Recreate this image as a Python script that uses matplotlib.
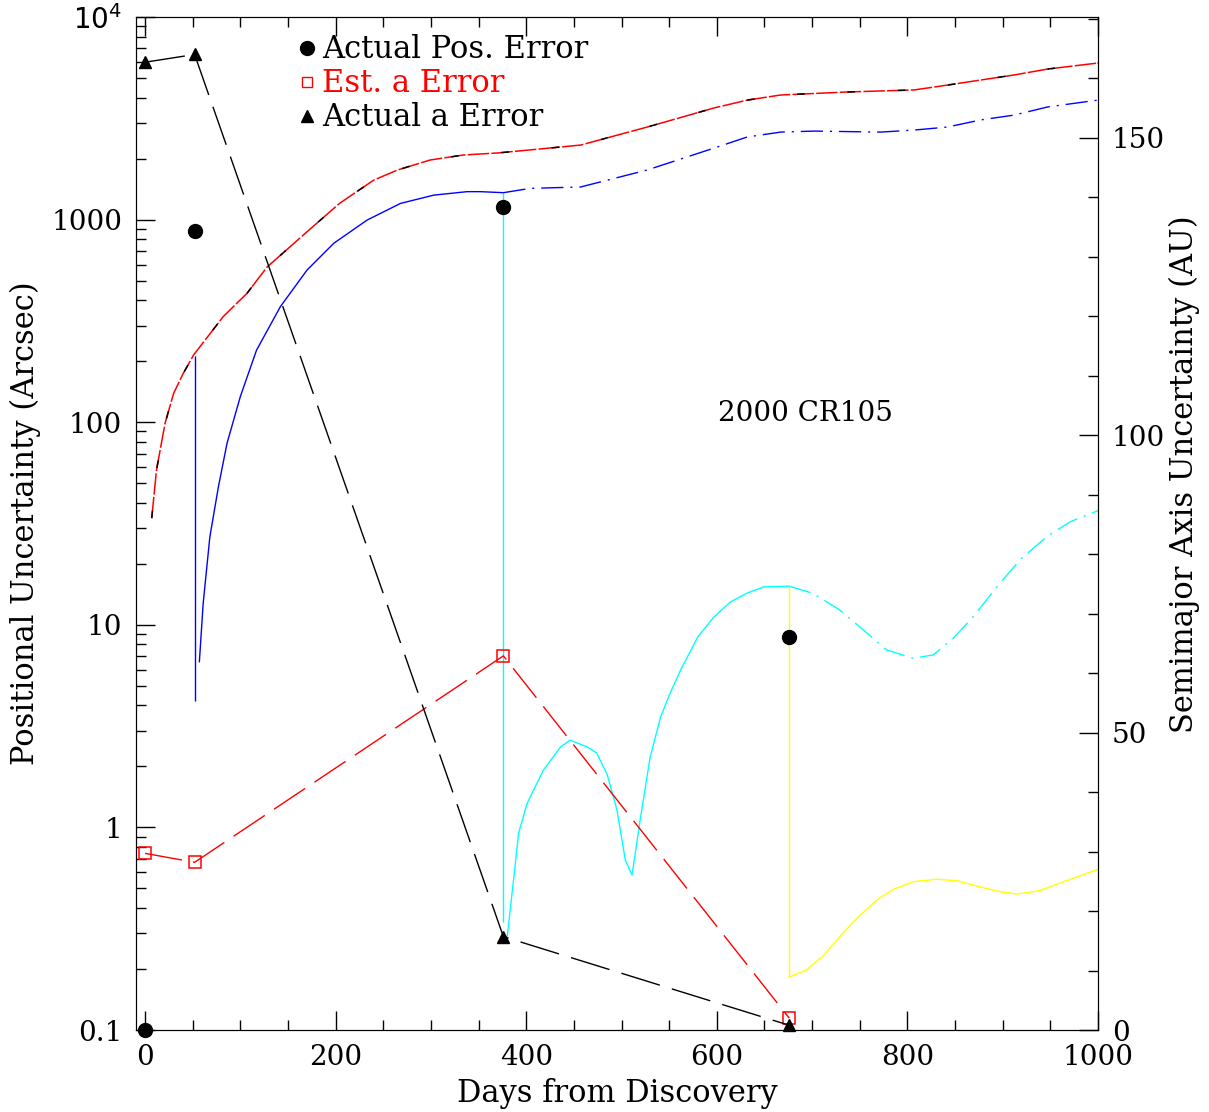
import numpy as np
import matplotlib
matplotlib.use("Agg")
import matplotlib.pyplot as plt
from matplotlib.lines import Line2D
from matplotlib.ticker import FixedLocator, FixedFormatter, LogLocator, MultipleLocator, NullFormatter

# --- data ---
# estimated positional uncertainty (red / black dashed curve), arcsec
est_days = [7, 12, 21, 30, 40, 51, 82, 107, 128, 168, 204, 240, 265, 299, 334, 370, 404,
            457, 527, 597, 632, 667, 737, 807, 842, 877, 912, 947, 1000]
est_pos = [33.6, 58.1, 98.9, 139, 174, 215, 332, 433, 583, 855, 1202, 1567, 1758, 1968,
           2084, 2133, 2208, 2333, 2864, 3556, 3890, 4121, 4266, 4365, 4613, 4887, 5176,
           5534, 5929]

# blue curve (after 2nd observation)
blue_days = [57, 61, 68, 77, 86, 100, 117, 142, 170, 198, 233, 268, 303, 338, 352, 376]
blue_vals = [6.58, 12.8, 27.2, 48.1, 78.7, 134, 227, 372, 564, 764, 995, 1202, 1321,
             1374, 1374, 1358]
blue_pred_days = [376, 404, 457, 527, 597, 632, 667, 702, 772, 807, 842, 877, 912, 947, 1000]
blue_pred_vals = [1358, 1426, 1449, 1758, 2254, 2559, 2704, 2735, 2704, 2767, 2864, 3105,
                  3281, 3597, 3890]

# cyan curve (after 3rd observation)
cyan_days = [380, 387, 392, 401, 418, 436, 446, 464, 474, 485, 495, 504, 511, 520, 530,
             541, 551, 562, 580, 597, 614, 632, 649, 676]
cyan_vals = [0.288, 0.569, 0.938, 1.318, 1.919, 2.495, 2.698, 2.495, 2.328, 1.82, 1.23,
             0.690, 0.582, 1.125, 2.223, 3.508, 4.603, 5.984, 8.71, 10.94, 12.94, 14.36,
             15.38, 15.52]
cyan_pred_days = [676, 701, 729, 754, 778, 806, 827, 848, 869, 894, 918, 946, 971, 1000]
cyan_pred_vals = [15.52, 14.29, 11.83, 9.42, 7.52, 6.84, 7.10, 8.57, 10.96, 15.42, 20.9,
                  27.2, 32.3, 36.6]

# yellow curve (after 4th observation)
yel_days = [676, 694, 712, 729, 747, 768, 785, 806, 831, 852, 876, 897, 915, 939, 964, 1000]
yel_vals = [0.183, 0.198, 0.234, 0.289, 0.356, 0.439, 0.494, 0.540, 0.555, 0.546, 0.509,
            0.482, 0.469, 0.488, 0.540, 0.621]

# drops at each new observation (day, from, to)
drop_days = [52, 376, 676]
drop_top = [213, 1358, 15.52]
drop_bot = [4.21, 0.341, 0.183]
drop_cols = ['blue', 'cyan', 'yellow']

# observations
obs_days = [0, 52, 376, 676]
pos_err = [0.1, 880, 1153, 8.7]          # arcsec
est_a_err = [29.7, 28.2, 62.9, 2.0]      # AU
act_a_err = [162.7, 164.0, 15.7, 0.8]    # AU

plt.rcParams['font.family'] = ['DejaVu Serif']
plt.rcParams['font.size'] = 20

fig = plt.figure(figsize=(12.09, 11.12), dpi=100)
ax = fig.add_axes([0.1125, 0.0737, 0.7957, 0.911])
ax2 = ax.twinx()

lw = 1.0
# red/black curve
ax.plot(est_days, est_pos, color='red', lw=1.1, dashes=(14, 1.5))
ax.plot(est_days, est_pos, color='black', lw=1.1, dashes=(5, 28))
# blue
ax.plot(blue_days, blue_vals, color='blue', lw=lw)
ax.plot(blue_pred_days, blue_pred_vals, color='blue', lw=lw, dashes=(16, 5, 1.5, 5))
# cyan
ax.plot(cyan_days, cyan_vals, color='cyan', lw=lw)
ax.plot(cyan_pred_days, cyan_pred_vals, color='cyan', lw=lw, dashes=(16, 5, 1.5, 5))
# yellow
ax.plot(yel_days, yel_vals, color='yellow', lw=lw)
# vertical drops
ax.vlines(drop_days, drop_bot, drop_top, colors=drop_cols, lw=lw)

# actual positional error
ax.plot(obs_days, pos_err, 'o', color='black', ms=10, clip_on=False, zorder=5)

# semimajor axis errors (right axis)
ax2.plot(obs_days, est_a_err, color='red', lw=lw, dashes=(27, 8))
ax2.plot(obs_days, est_a_err, 's', ms=8, mfc='none', mec='red', mew=1.1, clip_on=False)
ax2.plot(obs_days, act_a_err, color='black', lw=lw, dashes=(29, 9))
ax2.plot(obs_days, act_a_err, '^', ms=9, color='black', clip_on=False)

ax.text(693, 111, '2000 CR105', ha='center', va='center', fontsize=20)

# axes
ax.set_xlim(-9.5, 1000)
ax.set_yscale('log')
ax.set_ylim(0.1, 1e4)
ax2.set_ylim(0, 170.3)

ax.xaxis.set_major_locator(MultipleLocator(200))
ax.xaxis.set_minor_locator(MultipleLocator(50))
ax.yaxis.set_major_locator(FixedLocator([0.1, 1, 10, 100, 1000, 1e4]))
ax.yaxis.set_major_formatter(FixedFormatter(['0.1', '1', '10', '100', '1000', r'$10^4$']))
ax.yaxis.set_minor_locator(LogLocator(base=10, subs=np.arange(2, 10)))
ax.yaxis.set_minor_formatter(NullFormatter())
ax2.yaxis.set_major_locator(MultipleLocator(50))
ax2.yaxis.set_minor_locator(MultipleLocator(10))

ax.tick_params(which='both', direction='in', top=True, right=False, width=1)
ax.tick_params(which='major', length=14, pad=10)
ax.tick_params(which='minor', length=7)
ax2.tick_params(which='both', direction='in', width=1)
ax2.tick_params(which='major', length=14, pad=10)
ax2.tick_params(which='minor', length=7)

ax.set_xlabel('Days from Discovery', fontsize=22)
ax.set_ylabel('Positional Uncertainty (Arcsec)', fontsize=22)
ax2.set_ylabel('Semimajor Axis Uncertainty (AU)', fontsize=22)
ax.xaxis.set_label_coords(0.5, -0.047)
ax.yaxis.set_label_coords(-0.099, 0.5)
ax2.yaxis.set_label_coords(1.074, 0.549)

handles = [Line2D([], [], ls='none', marker='o', color='black', ms=10),
           Line2D([], [], ls='none', marker='s', mfc='none', mec='red', ms=7),
           Line2D([], [], ls='none', marker='^', color='black', ms=8)]
leg = ax2.legend(handles, ['Actual Pos. Error', 'Est. a Error', 'Actual a Error'],
                 loc='upper left', bbox_to_anchor=(0.168, 0.983), frameon=False,
                 fontsize=22, handlelength=0.6, handletextpad=0.2, labelspacing=0.1,
                 borderpad=0, borderaxespad=0)
leg.get_texts()[1].set_color('red')

fig.savefig('out.png', dpi=100)
